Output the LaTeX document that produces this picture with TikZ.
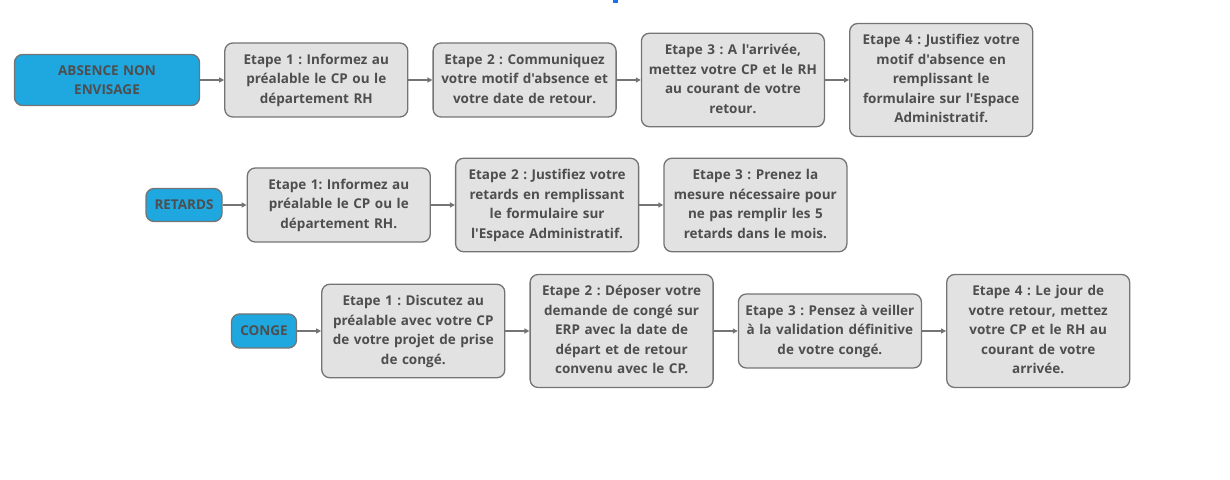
\documentclass[tikz,border=0pt]{standalone}
\usepackage{fontspec}
\setmainfont{Open Sans}[Ligatures=TeXOff]
\usetikzlibrary{positioning, arrows.meta}
\definecolor{stepfill}{HTML}{E2E2E2}
\definecolor{stepline}{HTML}{747474}
\definecolor{headblue}{HTML}{1FA7E0}
\definecolor{txtgray}{HTML}{4E4E4E}
\definecolor{markblue}{HTML}{1A73E8}
\frenchspacing

\begin{document}
\begin{tikzpicture}[x=1pt, y=1pt, node distance=24pt,
  every node/.style={font=\fontsize{13.5}{19.5}\selectfont\bfseries, text=txtgray, align=center},
  stepbox/.style={draw=stepline, line width=1.3pt, fill=stepfill, rounded corners=8pt,
    text width=177pt, inner xsep=3pt, inner ysep=7.75pt,
    execute at begin node={\strut}, execute at end node={\strut}},
  headbox/.style={draw=stepline, line width=1.3pt, fill=headblue, rounded corners=8pt, inner sep=4pt},
  arr/.style={draw=stepline, line width=1.2pt, -{Triangle[length=5pt, width=5pt]}}]
\useasboundingbox (0,0) rectangle (1230,479);
\fill[markblue] (613,479) rectangle (618,476);

\node[headbox, text width=177pt, minimum height=51pt] (abs) at (107,399) {ABSENCE NON\\ENVISAGE};
\node[stepbox, right=of abs] (abs1) {Etape 1 : Informez au\\préalable le CP ou le\\département RH};
\node[stepbox, right=of abs1] (abs2) {Etape 2 : Communiquez\\votre motif d'absence et\\votre date de retour.};
\node[stepbox, right=of abs2] (abs3) {Etape 3 : A l'arrivée,\\mettez votre CP et le RH\\au courant de votre\\retour.};
\node[stepbox, right=of abs3] (abs4) {Etape 4 : Justifiez votre\\motif d'absence en\\remplissant le\\formulaire sur l'Espace\\Administratif.};
\draw[arr] (abs) -- (abs1);
\draw[arr] (abs1) -- (abs2);
\draw[arr] (abs2) -- (abs3);
\draw[arr] (abs3) -- (abs4);

\node[headbox, minimum width=76pt, minimum height=33pt] (ret) at (184,274) {RETARDS};
\node[stepbox, right=of ret] (ret1) {Etape 1: Informez au\\préalable le CP ou le\\département RH.};
\node[stepbox, right=of ret1] (ret2) {Etape 2 : Justifiez votre\\retards en remplissant\\le formulaire sur\\l'Espace Administratif.};
\node[stepbox, right=of ret2] (ret3) {Etape 3 : Prenez la\\mesure nécessaire pour\\ne pas remplir les 5\\retards dans le mois.};
\draw[arr] (ret) -- (ret1);
\draw[arr] (ret1) -- (ret2);
\draw[arr] (ret2) -- (ret3);

\node[headbox, minimum width=65pt, minimum height=34pt] (cong) at (264,148) {CONGE};
\node[stepbox, right=of cong] (cong1) {Etape 1 : Discutez au\\préalable avec votre CP\\de votre projet de prise\\de congé.};
\node[stepbox, right=of cong1] (cong2) {Etape 2 : Déposer votre\\demande de congé sur\\ERP avec la date de\\départ et de retour\\convenu avec le CP.};
\node[stepbox, right=of cong2] (cong3) {Etape 3 : Pensez à veiller\\à la validation définitive\\de votre congé.};
\node[stepbox, right=of cong3] (cong4) {Etape 4 : Le jour de\\votre retour, mettez\\votre CP et le RH au\\courant de votre\\arrivée.};
\draw[arr] (cong) -- (cong1);
\draw[arr] (cong1) -- (cong2);
\draw[arr] (cong2) -- (cong3);
\draw[arr] (cong3) -- (cong4);
\end{tikzpicture}
\end{document}
